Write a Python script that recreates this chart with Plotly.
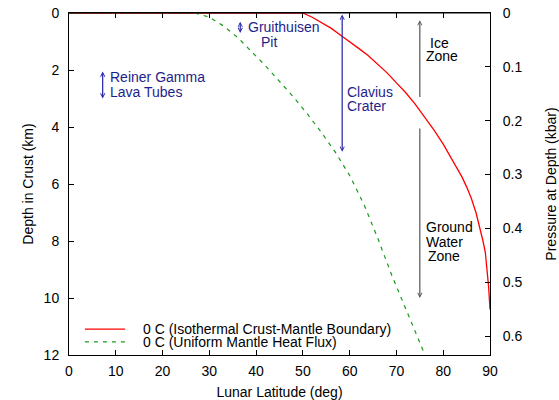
import plotly.graph_objects as go

# Data
lat_red = [0, 50, 52, 54, 56, 58, 60, 62, 64, 66, 68, 70, 72, 74, 76, 78, 80, 82, 84, 85, 86, 87, 88, 88.5, 89, 89.4, 89.7, 90]
depth_red = [0, 0, 0.15, 0.33, 0.53, 0.77, 1.0, 1.25, 1.5, 1.8, 2.1, 2.45, 2.8, 3.2, 3.65, 4.1, 4.6, 5.15, 5.75, 6.1, 6.5, 7.0, 7.6, 8.0, 8.4, 9.0, 9.6, 10.4]

lat_green = [0, 27, 30, 33, 36, 39, 42, 45, 48, 51, 54, 57, 60, 63, 66, 69, 72, 74, 76.1]
depth_green = [0, 0, 0.15, 0.45, 0.85, 1.35, 1.85, 2.4, 2.95, 3.55, 4.2, 4.9, 5.7, 6.7, 7.9, 9.2, 10.4, 11.2, 12]

name_red = "0 C (Isothermal Crust-Mantle Boundary)"
name_green = "0 C (Uniform Mantle Heat Flux)"

x_ticks = [0, 10, 20, 30, 40, 50, 60, 70, 80, 90]
y_ticks = [0, 2, 4, 6, 8, 10, 12]
p_ticks = [0, 0.1, 0.2, 0.3, 0.4, 0.5, 0.6]
p_tick_text = ["0", "0.1", "0.2", "0.3", "0.4", "0.5", "0.6"]

# Feature ranges (latitude, depth top, depth bottom)
reiner = (7.2, 2.0, 3.0)
gruit = (36.6, 0.25, 0.7)
clavius = (58.4, 0.0, 4.87)
ice = (75.0, 3.0, 0.25)        # tail, head
ground = (75.0, 4.0, 10.0)     # tail, head

FONT = "Liberation Sans, Arial, Helvetica, sans-serif"
BLUE_T = "#1e1e8c"
BLUE_A = "#2222a8"
GRAY_A = "#555555"

fig = go.Figure()
fig.add_trace(go.Scatter(x=lat_red, y=depth_red, mode="lines", name=name_red,
                         line=dict(color="#ff0000", width=1.3), showlegend=False))
fig.add_trace(go.Scatter(x=lat_green, y=depth_green, mode="lines", name=name_green,
                         line=dict(color="#1a9a1a", width=1.2, dash="4px,5px"), showlegend=False))
# invisible traces to activate the right and top axes
fig.add_trace(go.Scatter(x=[None], y=[None], yaxis="y2", showlegend=False, hoverinfo="skip"))
fig.add_trace(go.Scatter(x=[None], y=[None], xaxis="x2", showlegend=False, hoverinfo="skip"))

ann = []

def arrow(x, y_tail, y_head, color, both=False):
    ann.append(dict(x=x, y=y_head, ax=x, ay=y_tail, xref="x", yref="y", axref="x", ayref="y",
                    text="", showarrow=True, arrowhead=5, arrowsize=0.7, arrowwidth=1.2,
                    arrowcolor=color, arrowside="end+start" if both else "end",
                    startarrowhead=5, startarrowsize=0.7, standoff=0, startstandoff=0))

def label(x, y, t, color):
    ann.append(dict(x=x, y=y, xref="x", yref="y", text=t, showarrow=False, borderpad=0,
                    xanchor="left", yanchor="middle", font=dict(family=FONT, size=14, color=color)))

arrow(reiner[0], reiner[1], reiner[2], BLUE_A, both=True)
label(8.5, 2.25, "Reiner Gamma", BLUE_T)
label(8.5, 2.77, "Lava Tubes", BLUE_T)

arrow(gruit[0], gruit[1], gruit[2], BLUE_A, both=True)
label(38.0, 0.49, "Gruithuisen", BLUE_T)
label(40.9, 1.01, "Pit", BLUE_T)

arrow(clavius[0], clavius[1], clavius[2], BLUE_A, both=True)
label(59.3, 2.76, "Clavius", BLUE_T)
label(59.3, 3.26, "Crater", BLUE_T)

arrow(ice[0], ice[1], ice[2], GRAY_A)
label(77.0, 1.04, "Ice", "black")
label(76.0, 1.51, "Zone", "black")

arrow(ground[0], ground[1], ground[2], GRAY_A)
label(76.2, 7.52, "Ground", "black")
label(76.2, 8.02, "Water", "black")
label(76.6, 8.53, "Zone", "black")

# manual legend (tight row spacing like the reference)
legend_rows = [(11.09, name_red, "#ff0000", "solid", 1.3), (11.54, name_green, "#1a9a1a", "4px,5px", 1.2)]
shapes = []
for yy, nm, col, dsh, w in legend_rows:
    shapes.append(dict(type="line", xref="x", yref="y", x0=3.4, x1=12.0, y0=yy, y1=yy,
                       line=dict(color=col, width=w, dash=dsh)))
    ann.append(dict(x=15.7, y=yy, xref="x", yref="y", text=nm, showarrow=False, borderpad=0,
                    xanchor="left", yanchor="middle", font=dict(family=FONT, size=14, color="black")))

# top frame edge drawn above the traces
shapes.append(dict(type="line", xref="paper", yref="paper", x0=0, x1=1, y0=1, y1=1,
                   line=dict(color="black", width=1), layer="above"))

axis_common = dict(showline=True, linecolor="black", linewidth=1, ticks="inside", ticklen=5,
                   tickcolor="black", showgrid=False, zeroline=False, automargin=False,
                   ticklabeloverflow="allow",
                   tickfont=dict(family=FONT, size=14, color="black"))

fig.update_layout(
    width=559, height=400,
    margin=dict(l=69, r=69, t=13, b=45, autoexpand=False),
    paper_bgcolor="white", plot_bgcolor="white",
    font=dict(family=FONT, size=14, color="black"),
    xaxis=dict(range=[0, 90], tickvals=x_ticks, mirror="ticks",
               title=dict(text="Lunar Latitude (deg)", font=dict(family=FONT, size=14), standoff=14),
               ticklabelstandoff=3, **axis_common),
    xaxis2=dict(range=[0, 90], tickvals=x_ticks, overlaying="x", side="top", anchor="y",
                showticklabels=False, **axis_common),
    yaxis=dict(range=[12, 0], tickvals=y_ticks,
               title=dict(text="Depth in Crust (km)", font=dict(family=FONT, size=14), standoff=6),
               ticklabelstandoff=6, **axis_common),
    yaxis2=dict(range=[0.6353, 0], tickvals=p_ticks, ticktext=p_tick_text, overlaying="y", side="right",
                title=dict(text="Pressure at Depth (kbar)", font=dict(family=FONT, size=14), standoff=28),
                ticklabelstandoff=9, **axis_common),
    annotations=ann, shapes=shapes, showlegend=False,
)

# remove the page's default body margin so the 559x400 figure fills the window
fig.write_html("out.html", config={"displayModeBar": False},
               post_script="document.body.style.margin='0';")
